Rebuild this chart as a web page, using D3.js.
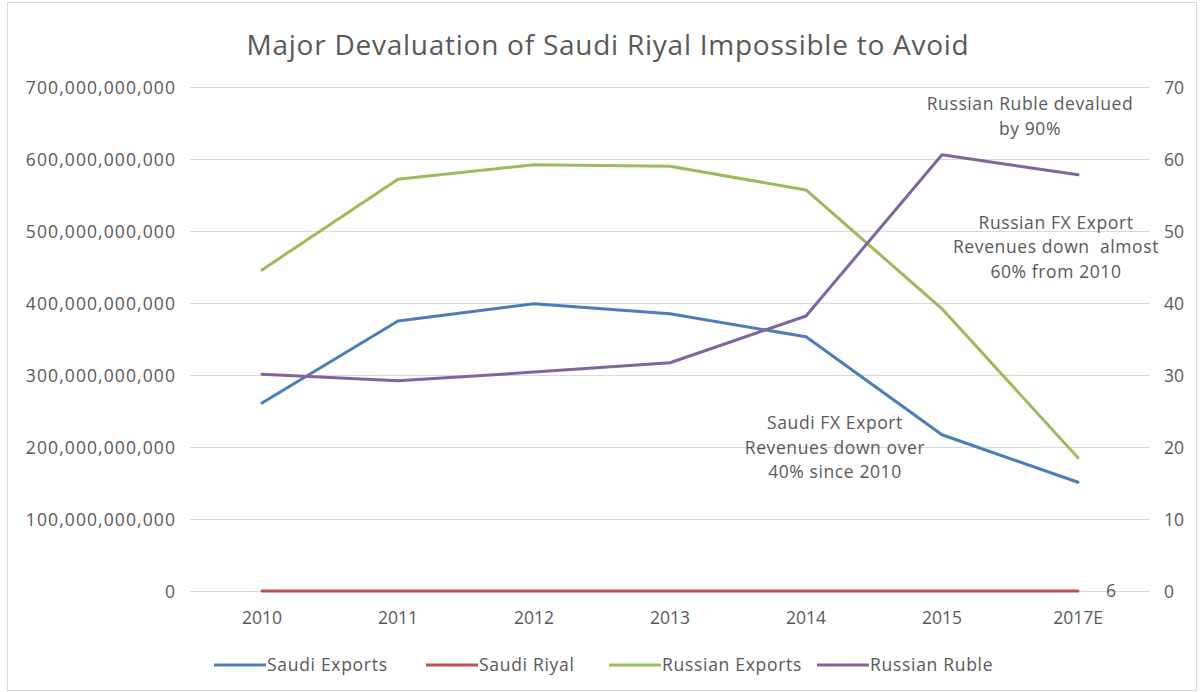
<!DOCTYPE html>
<html>
<head>
<meta charset="utf-8">
<script src="https://cdn.jsdelivr.net/npm/d3@7"></script>
<style>
  html, body { margin: 0; padding: 0; background: #fff; }
  svg text { font-family: "Open Sans", "Noto Sans", sans-serif; fill: #595959; white-space: pre; }
</style>
</head>
<body>
<svg id="chart" width="1200" height="692"></svg>
<script>
const categories = ["2010", "2011", "2012", "2013", "2014", "2015", "2017E"];
const saudiExports = [261e9, 375e9, 399e9, 385e9, 353e9, 217e9, 151e9];
const saudiRiyal = [3.75, 3.75, 3.75, 3.75, 3.75, 3.75, 3.75];
const russianExports = [446e9, 572e9, 592e9, 590e9, 557e9, 392e9, 185e9];
const russianRuble = [30.1, 29.2, 30.4, 31.7, 38.2, 60.6, 57.8];
const leftTicks = [0, 100e9, 200e9, 300e9, 400e9, 500e9, 600e9, 700e9];
const rightTicks = [0, 10, 20, 30, 40, 50, 60, 70];
const seriesNames = ["Saudi Exports", "Saudi Riyal", "Russian Exports", "Russian Ruble"];
const seriesColors = ["#4a7ebb", "#c0504d", "#9bbb59", "#8064a2"];
const chartTitle = "Major Devaluation of Saudi Riyal Impossible to Avoid";
const riyalEndLabel = "6";
const annotations = [
  { lines: ["Russian Ruble devalued", "by 90%"], cat: "2015", shift: 88, val: 66.8, axis: "right" },
  { lines: ["Russian FX Export", "Revenues down  almost", "60% from 2010"], cat: "2015", shift: 114, val: 50.3, axis: "right" },
  { lines: ["Saudi FX Export", "Revenues down over", "40% since 2010"], cat: "2014", shift: 29, val: 225e9, axis: "left" }
];

const svg = d3.select("#chart");
const plot = { left: 194, right: 1146, top: 87, bottom: 591 };

// border
svg.append("rect").attr("x", 7.5).attr("y", 2.5).attr("width", 1189).attr("height", 688)
  .attr("fill", "none").attr("stroke", "#d9d9d9").attr("stroke-width", 1);

const x = d3.scaleBand().domain(categories).range([plot.left, plot.right]);
const yL = d3.scaleLinear().domain([0, 700e9]).range([plot.bottom, plot.top]);
const yR = d3.scaleLinear().domain([0, 70]).range([plot.bottom, plot.top]);
const cx = c => x(c) + x.bandwidth() / 2;

// title
svg.append("text").attr("x", 608).attr("y", 55).attr("text-anchor", "middle")
  .style("font-size", "28px").style("letter-spacing", "0.75px").text(chartTitle);

// gridlines
svg.append("g").selectAll("line").data(leftTicks).join("line")
  .attr("x1", plot.left - 4).attr("x2", plot.right + 4)
  .attr("y1", d => Math.round(yL(d)) + 0.5).attr("y2", d => Math.round(yL(d)) + 0.5)
  .attr("stroke", "#d9d9d9").attr("stroke-width", 1);

// left axis
const fmt = d3.format(",");
const gl = svg.append("g").attr("transform", `translate(${plot.left - 18},0)`)
  .call(d3.axisLeft(yL).tickValues(leftTicks).tickFormat(d => fmt(d)).tickSize(0).tickPadding(0));
gl.select(".domain").remove();
gl.selectAll("text").style("font-size", "17.5px").style("letter-spacing", "1.1px")
  .attr("fill", "#595959").attr("dy", "0.35em");

// right axis
const gr = svg.append("g").attr("transform", `translate(${plot.right + 18},0)`)
  .call(d3.axisRight(yR).tickValues(rightTicks).tickSize(0).tickPadding(0));
gr.select(".domain").remove();
gr.selectAll("text").style("font-size", "17.5px").attr("fill", "#595959").attr("dy", "0.35em");

// x axis
const gx = svg.append("g").attr("transform", `translate(0,${plot.bottom + 20})`)
  .call(d3.axisBottom(x).tickSize(0).tickPadding(0));
gx.select(".domain").remove();
gx.selectAll("text").style("font-size", "17.5px").attr("fill", "#595959").attr("dy", "0.75em");

// lines
const lineL = d3.line().x((d, i) => cx(categories[i])).y(d => yL(d));
const lineR = d3.line().x((d, i) => cx(categories[i])).y(d => yR(d));
const seriesData = [
  { v: saudiExports, line: lineL },
  { v: saudiRiyal, line: lineL },
  { v: russianExports, line: lineL },
  { v: russianRuble, line: lineR }
];
svg.append("g").selectAll("path").data(seriesData).join("path")
  .attr("d", d => d.line(d.v))
  .attr("fill", "none")
  .attr("stroke", (d, i) => seriesColors[i])
  .attr("stroke-width", 3)
  .attr("stroke-linejoin", "round").attr("stroke-linecap", "round");

// riyal end label
svg.append("text").attr("x", cx("2017E") + 28).attr("y", yL(saudiRiyal[6]))
  .attr("dy", "0.35em").style("font-size", "17.5px").text(riyalEndLabel);

// annotations
annotations.forEach(a => {
  const y0 = a.axis === "right" ? yR(a.val) : yL(a.val);
  const t = svg.append("text").attr("text-anchor", "middle")
    .style("font-size", "17.5px").style("letter-spacing", "0.6px");
  a.lines.forEach((ln, i) => {
    t.append("tspan").attr("x", cx(a.cat) + a.shift).attr("y", y0 + i * 24.5).text(ln);
  });
});

// legend
const legendX = [214, 426, 609, 817];
const lg = svg.append("g").attr("transform", "translate(0,665)");
seriesNames.forEach((n, i) => {
  lg.append("line").attr("x1", legendX[i]).attr("x2", legendX[i] + 52)
    .attr("y1", 0).attr("y2", 0).attr("stroke", seriesColors[i]).attr("stroke-width", 3);
  lg.append("text").attr("x", legendX[i] + 53).attr("y", 0).attr("dy", "0.35em")
    .style("font-size", "17.5px").style("letter-spacing", "0.7px").text(n);
});
</script>
</body>
</html>
